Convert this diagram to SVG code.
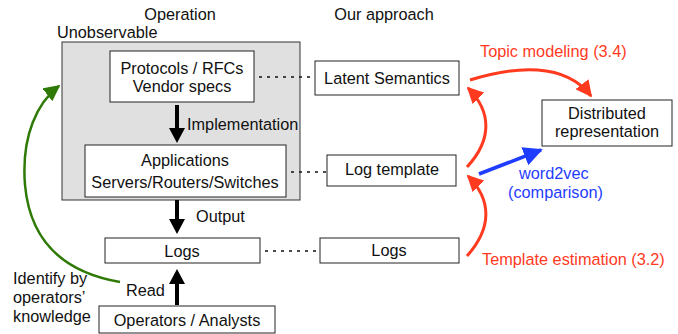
<svg xmlns="http://www.w3.org/2000/svg" width="678" height="334" viewBox="0 0 678 334">
<defs>
<style>
text{font-family:"Liberation Sans",Arial,sans-serif;font-size:16.3px;fill:#111}
.box{fill:#fff;stroke:#222;stroke-width:1}
.dot{stroke:#111;stroke-width:1.6;stroke-dasharray:3 5;fill:none}
.red{fill:none;stroke:#ff3a1e;stroke-width:3}
.c{text-anchor:middle}
</style>
<marker id="ar" viewBox="0 0 10 10" refX="9" refY="5" markerWidth="5.5" markerHeight="5.5" orient="auto" markerUnits="strokeWidth"><path d="M0,0 L10,5 L0,10 Z" fill="#ff3a1e"/></marker>
<marker id="ab" viewBox="0 0 10 10" refX="9" refY="5" markerWidth="5.5" markerHeight="5.5" orient="auto" markerUnits="strokeWidth"><path d="M0,0 L10,5 L0,10 Z" fill="#1f3dff"/></marker>
<marker id="ag" viewBox="0 0 10 10" refX="9" refY="5" markerWidth="6.5" markerHeight="6.5" orient="auto" markerUnits="strokeWidth"><path d="M0,0 L10,5 L0,10 Z" fill="#2f7a06"/></marker>
</defs>
<text x="180" y="20" class="c">Operation</text>
<text x="384" y="20" class="c">Our approach</text>
<g id="unobservable">
<rect x="62" y="42" width="238" height="158" fill="#e0e0e0" stroke="#333" stroke-width="1"/>
<text x="57" y="38">Unobservable</text>
</g>
<g id="protocols">
<rect class="box" x="110" y="51" width="144" height="51"/>
<text x="182" y="74" class="c">Protocols / RFCs</text>
<text x="182" y="92" class="c">Vendor specs</text>
</g>
<g id="applications">
<rect class="box" x="85" y="145" width="201" height="52"/>
<text x="185" y="166" class="c">Applications</text>
<text x="185" y="188" class="c">Servers/Routers/Switches</text>
</g>
<g id="logs">
<rect class="box" x="105" y="238" width="155" height="25"/>
<text x="182" y="257" class="c">Logs</text>
</g>
<g id="operators">
<rect class="box" x="99" y="306" width="176" height="27"/>
<text x="187" y="326" class="c">Operators / Analysts</text>
</g>
<g id="latent">
<rect class="box" x="315" y="61" width="144" height="34"/>
<text x="387" y="84" class="c">Latent Semantics</text>
</g>
<g id="logtemplate">
<rect class="box" x="327" y="155" width="129" height="31"/>
<text x="392" y="175" class="c">Log template</text>
</g>
<g id="logs2">
<rect class="box" x="320" y="238" width="139" height="25"/>
<text x="389" y="256" class="c">Logs</text>
</g>
<g id="distributed">
<rect class="box" x="542" y="100" width="130" height="46"/>
<text x="607" y="119" class="c">Distributed</text>
<text x="607" y="137" class="c">representation</text>
</g>
<g id="connectors">
<line class="dot" x1="259" y1="77" x2="314" y2="77"/>
<line class="dot" x1="291" y1="172" x2="326" y2="172"/>
<line class="dot" x1="265" y1="251" x2="319" y2="251"/>
<path d="M175,105 h4 v23 h6 l-8,15 l-8,-15 h6 z" fill="#000"/>
<path d="M175,200 h4 v19 h6 l-8,15 l-8,-15 h6 z" fill="#000"/>
<path d="M175,305 h4 v-21 h6 l-8,-15 l-8,15 h6 z" fill="#000"/>
<path class="red" d="M467,167 C492,140 492,112 468,88" marker-end="url(#ar)"/>
<path class="red" d="M467,256 C492,228 492,200 468,176" marker-end="url(#ar)"/>
<path class="red" d="M470,80 C515,66 565,62 591,96" marker-end="url(#ar)"/>
<path d="M479,174 L541,150" fill="none" stroke="#1f3dff" stroke-width="3.5" marker-end="url(#ab)"/>
<path d="M120,282 C62,272 30,240 25,185 C21,135 38,102 59,86" fill="none" stroke="#2f7a06" stroke-width="2.5" marker-end="url(#ag)"/>
<text x="187" y="130">Implementation</text>
<text x="196" y="222">Output</text>
<text x="126" y="296">Read</text>
<text x="13" y="284">Identify by</text>
<text x="13" y="303">operators’</text>
<text x="13" y="322">knowledge</text>
<text x="480" y="57" style="fill:#ff3a1e">Topic modeling (3.4)</text>
<text x="519" y="179" style="fill:#1f3dff">word2vec</text>
<text x="508" y="198" style="fill:#1f3dff">(comparison)</text>
<text x="482" y="265" style="fill:#ff3a1e">Template estimation (3.2)</text>
</g>
</svg>
